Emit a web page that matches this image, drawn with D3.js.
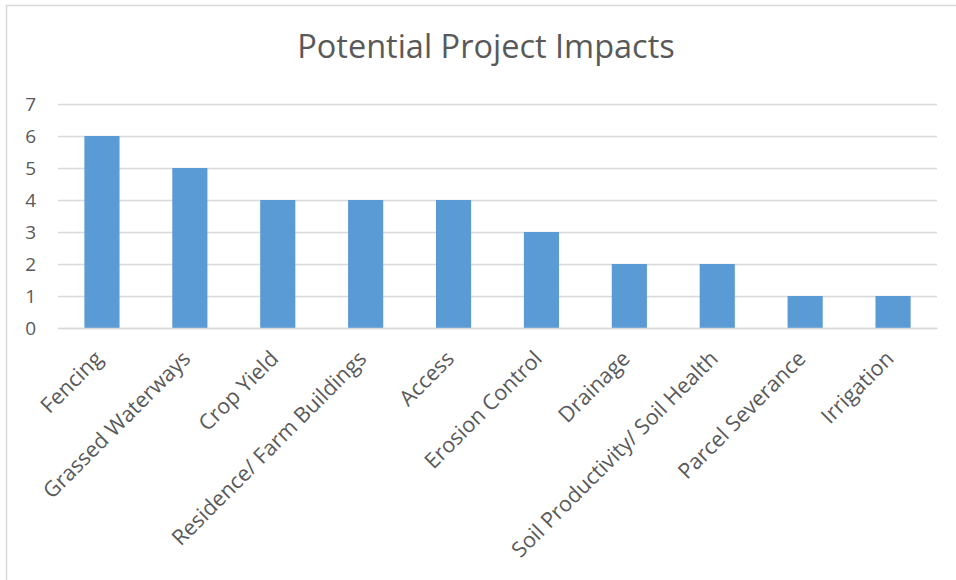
<!DOCTYPE html>
<html><head><meta charset="utf-8">
<script src="https://cdn.jsdelivr.net/npm/d3@7"></script>
<style>
html,body{margin:0;padding:0;background:#fff;}
text{font-family:"Open Sans",sans-serif;fill:#595959;}
</style></head>
<body>
<svg id="chart" width="956" height="580"></svg>
<script>
const categories = ["Fencing","Grassed Waterways","Crop Yield","Residence/ Farm Buildings","Access","Erosion Control","Drainage","Soil Productivity/ Soil Health","Parcel Severance","Irrigation"];
const values = [6,5,4,4,4,3,2,2,1,1];
const yTicks = [0,1,2,3,4,5,6,7];
const title = "Potential Project Impacts";

const svg = d3.select("#chart");
svg.append("rect").attr("x",6.5).attr("y",5.5).attr("width",980).attr("height",600)
  .attr("fill","#fff").attr("stroke","#d9d9d9").attr("stroke-width",1.5);

const pLeft=58, pRight=937, pTop=104, pBottom=328;
const x = d3.scaleBand().domain(categories).range([pLeft,pRight]).paddingInner(0.6).paddingOuter(0.3);
const y = d3.scaleLinear().domain([0,7]).range([pBottom,pTop]);

svg.append("text").attr("x",486).attr("y",58).attr("text-anchor","middle")
  .style("font-size","32.5px").text(title);

const gy = svg.append("g").attr("transform",`translate(${pLeft},0)`)
  .call(d3.axisLeft(y).tickValues(yTicks).tickSize(-(pRight-pLeft)).tickPadding(22).tickFormat(d3.format("d")));
gy.select(".domain").remove();
gy.selectAll(".tick line").attr("stroke","#d9d9d9").attr("stroke-width",1.5);
gy.selectAll(".tick text").style("font-size","19px").attr("fill","#595959");

svg.append("g").selectAll("rect").data(values).join("rect")
  .attr("x",(d,i)=>x(categories[i])).attr("width",x.bandwidth())
  .attr("y",d=>y(d)).attr("height",d=>y(0)-y(d)).attr("fill","#5b9bd5");

const gx = svg.append("g").attr("transform",`translate(0,${pBottom})`)
  .call(d3.axisBottom(x).tickSize(0).tickPadding(0));
gx.select(".domain").attr("stroke","#d9d9d9").attr("stroke-width",1.5);
gx.selectAll(".tick text").style("font-size","21.5px").attr("fill","#595959")
  .attr("text-anchor","end").attr("dy",0)
  .attr("transform","translate(2,32) rotate(-45)");
</script>
</body></html>
